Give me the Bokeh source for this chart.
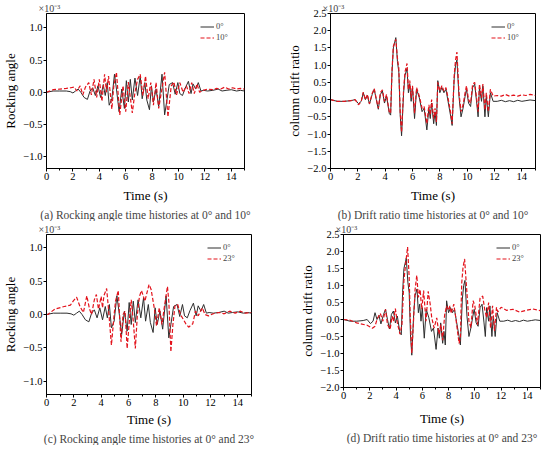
from bokeh.plotting import figure
from bokeh.layouts import column, row
from bokeh.models import Title, FixedTicker, SingleIntervalTicker, CustomJSTickFormatter, Legend, LegendItem
from bokeh.embed import file_html
from bokeh.resources import INLINE

FONT = "Liberation Serif"

# ---- Rocking angle, 0 deg (same series in panels a and c), units 1e-3 ----
t_rock0 = [0, 0.5, 1.0, 1.5, 1.8, 2.0, 2.2, 2.4, 2.6, 2.85, 3.1, 3.3, 3.5, 3.7, 3.9, 4.1, 4.3, 4.45,
           4.6, 4.75, 4.95, 5.15, 5.3, 5.5, 5.7, 5.9, 6.05, 6.2, 6.35, 6.5, 6.7, 6.9, 7.1, 7.25, 7.45,
           7.6, 7.8, 7.95, 8.1, 8.3, 8.5, 8.75, 8.95, 9.1, 9.3, 9.55, 9.75, 9.95, 10.1, 10.3, 10.5,
           10.75, 10.95, 11.1, 11.3, 11.5, 11.7, 11.9, 12.2, 12.6, 13.0, 13.3, 13.6, 14.0, 14.4, 14.7, 15.0]
v_rock0 = [0.0, 0.02, 0.02, 0.02, 0.01, -0.01, 0.02, 0.05, 0.0, -0.08, -0.11, 0.02, 0.07, -0.05, 0.1,
           -0.08, 0.12, -0.05, 0.15, -0.2, -0.1, 0.28, 0.05, -0.3, 0.05, -0.25, 0.18, -0.15, 0.2, -0.12,
           0.22, -0.05, 0.25, -0.1, 0.15, -0.12, -0.27, 0.1, -0.15, 0.05, -0.22, 0.28, -0.35, -0.15, 0.12,
           0.15, -0.03, 0.15, -0.02, -0.05, 0.06, 0.17, -0.02, 0.13, 0.05, 0.15, 0.02, 0.03, 0.02, 0.03,
           0.05, 0.02, 0.03, 0.04, 0.02, 0.03, 0.02]

# ---- Rocking angle, 10 deg (panel a) ----
t_rock10 = [0, 0.5, 1.0, 1.5, 1.85, 2.1, 2.3, 2.55, 2.75, 2.95, 3.2, 3.4, 3.6, 3.8, 4.0, 4.2, 4.4, 4.55,
            4.7, 4.95, 5.1, 5.3, 5.55, 5.8, 6.0, 6.2, 6.5, 6.7, 6.9, 7.1, 7.3, 7.5, 7.7, 7.9, 8.1, 8.3,
            8.5, 8.7, 8.95, 9.2, 9.45, 9.65, 9.85, 10.1, 10.35, 10.6, 10.8, 11.0, 11.2, 11.4, 11.6, 11.85,
            12.2, 12.6, 12.9, 13.2, 13.5, 13.8, 14.1, 14.4, 14.7, 15.0]
v_rock10 = [0.0, 0.04, 0.05, 0.06, 0.07, 0.08, 0.02, 0.1, -0.04, 0.08, 0.15, -0.04, 0.2, -0.08, 0.2,
            -0.14, 0.28, 0.0, 0.25, -0.26, 0.1, 0.31, -0.35, 0.1, -0.3, 0.16, -0.32, 0.0, 0.2, 0.28, -0.05,
            0.25, -0.1, 0.15, -0.2, 0.15, -0.25, 0.0, 0.31, -0.38, 0.1, 0.16, -0.04, 0.15, 0.0, 0.1, -0.02,
            0.15, -0.02, 0.13, 0.0, 0.03, 0.05, 0.04, 0.06, 0.05, 0.08, 0.05, 0.07, 0.05, 0.06, 0.05]

# ---- Rocking angle, 23 deg (panel c) ----
t_rock23 = [0, 0.1, 0.6, 1.3, 1.75, 1.95, 2.2, 2.45, 2.7, 2.95, 3.15, 3.3, 3.5, 3.65, 3.8, 4.0, 4.1, 4.2,
            4.4, 4.55, 4.75, 4.95, 5.05, 5.25, 5.45, 5.6, 5.75, 5.9, 6.1, 6.2, 6.35, 6.5, 6.65, 6.8, 6.95,
            7.2, 7.5, 7.65, 7.9, 8.05, 8.25, 8.45, 8.6, 8.85, 8.95, 9.1, 9.25, 9.4, 9.6, 9.8, 10.0, 10.2,
            10.4, 10.7, 10.9, 11.1, 11.4, 11.6, 11.85, 12.3, 12.7, 13.0, 13.4, 13.8, 14.2, 14.5, 15.0]
v_rock23 = [0.0, 0.0, 0.08, 0.12, 0.14, 0.2, 0.26, 0.12, 0.03, 0.28, 0.08, 0.0, 0.22, 0.3, 0.08, 0.27,
            0.1, 0.28, 0.39, 0.05, -0.46, 0.0, 0.2, 0.36, -0.41, 0.0, 0.05, -0.51, 0.0, 0.22, -0.1, -0.51,
            0.0, 0.27, 0.36, 0.2, 0.45, 0.38, 0.08, -0.17, 0.1, -0.15, 0.08, 0.42, 0.2, -0.56, -0.15, 0.13,
            0.15, 0.0, -0.07, -0.14, -0.19, -0.14, 0.05, -0.02, 0.1, 0.0, -0.02, 0.02, 0.03, 0.01, 0.05,
            0.02, 0.05, 0.02, 0.03]

# ---- Column drift ratio, 0 deg and 10 deg (panels b and d), units 1e-3 ----
t_drift = [0, 0.5, 1.0, 1.5, 1.8, 2.05, 2.25, 2.4, 2.55, 2.7, 2.85, 3.05, 3.2, 3.35, 3.5, 3.65, 3.8, 3.95,
           4.1, 4.3, 4.4, 4.5, 4.6, 4.78, 4.9, 5.0, 5.1, 5.2, 5.35, 5.45, 5.6, 5.7, 5.8, 5.9, 6.0, 6.15,
           6.3, 6.5, 6.7, 6.85, 7.05, 7.2, 7.3, 7.4, 7.55, 7.65, 7.75, 7.85, 8.0, 8.15, 8.3, 8.45, 8.6,
           8.8, 8.9, 9.05, 9.15, 9.25, 9.4, 9.55, 9.7, 9.85, 9.95, 10.1, 10.25, 10.4, 10.55, 10.7, 10.8,
           10.9, 11.05, 11.15, 11.3, 11.4, 11.55, 11.7, 11.9, 12.2, 12.5, 12.8, 13.1, 13.4, 13.7, 14.0,
           14.3, 14.6, 15.0]
v_drift0 = [0.0, -0.05, -0.05, -0.03, 0.0, -0.12, -0.05, 0.2, 0.0, 0.12, -0.13, 0.15, 0.3, 0.0, -0.28,
            0.15, 0.25, -0.1, 0.1, -0.4, -0.45, 0.8, 1.5, 1.8, 1.1, 0.8, -0.45, -1.05, 0.2, 0.7, 0.9, 0.2,
            0.45, -0.05, 0.35, -0.55, 0.3, 0.05, -0.35, -0.25, -0.88, -0.25, -0.55, -0.1, -0.7, -0.35,
            -0.75, 0.55, 0.2, 0.35, 0.2, 0.3, -0.05, -0.5, -0.75, 0.6, 1.0, 1.15, 0.1, -0.5, -0.25, 0.1,
            0.3, -0.1, -0.2, 0.35, 0.45, -0.1, -0.5, 0.35, -0.05, 0.4, -0.5, 0.1, -0.5, 0.2, -0.05, -0.05,
            -0.02, -0.06, -0.03, -0.06, -0.02, -0.05, -0.03, -0.01, -0.03]
v_drift10 = [0.0, -0.05, -0.05, -0.03, 0.0, -0.15, -0.05, 0.22, 0.0, 0.15, -0.12, 0.18, 0.32, 0.02, -0.25,
             0.2, 0.28, -0.05, 0.15, -0.35, -0.4, 0.85, 1.55, 1.75, 1.2, 0.9, -0.35, -0.95, 0.3, 0.8, 1.05,
             0.3, 0.55, 0.05, 0.4, -0.4, 0.35, 0.1, -0.25, -0.2, -0.7, -0.15, -0.45, 0.0, -0.55, -0.25,
             -0.65, 0.5, 0.25, 0.4, 0.25, 0.35, 0.05, -0.4, -0.7, 0.7, 1.15, 1.38, 0.2, -0.35, -0.15, 0.2,
             0.4, 0.0, -0.1, 0.45, 0.5, 0.0, -0.35, 0.45, 0.05, 0.45, -0.3, 0.2, -0.35, 0.3, 0.1, 0.12,
             0.1, 0.15, 0.1, 0.13, 0.1, 0.14, 0.12, 0.15, 0.12]

# ---- Column drift ratio, 23 deg (panel d) ----
t_drift23 = [0, 0.5, 1.0, 1.8, 2.2, 2.4, 2.55, 2.8, 3.0, 3.2, 3.35, 3.55, 3.7, 3.8, 3.95, 4.1, 4.3, 4.45,
             4.6, 4.75, 4.88, 5.0, 5.08, 5.2, 5.33, 5.45, 5.58, 5.7, 5.83, 5.96, 6.1, 6.28, 6.45, 6.6,
             6.72, 6.9, 7.1, 7.27, 7.42, 7.55, 7.7, 7.85, 8.0, 8.1, 8.2, 8.4, 8.55, 8.8, 8.9, 9.0, 9.1,
             9.22, 9.35, 9.55, 9.7, 9.87, 10.0, 10.2, 10.4, 10.6, 10.75, 10.9, 11.05, 11.2, 11.35, 11.5,
             11.65, 11.75, 12.0, 12.4, 12.9, 13.4, 13.9, 14.4, 14.9, 15.0]
v_drift23 = [0.0, -0.02, -0.1, -0.17, -0.26, -0.2, 0.0, 0.18, -0.05, 0.3, -0.15, -0.29, 0.1, -0.05, 0.32,
             -0.1, -0.43, -0.15, 1.15, 1.7, 2.13, 1.25, 0.1, -0.99, -0.05, 0.88, 1.3, 0.65, 0.88, 0.3,
             0.85, -0.05, 0.83, 0.45, 0.05, -0.25, 0.05, -0.43, -0.15, -0.61, 0.13, 0.4, 0.27, 0.4, 0.18,
             0.45, 0.05, -0.7, -0.55, 1.06, 1.53, 1.78, 1.05, -0.05, -0.24, 0.55, 0.4, -0.15, 0.64, 0.69,
             0.3, 0.05, 0.5, -0.25, 0.4, -0.34, 0.36, 0.22, 0.36, 0.27, 0.3, 0.22, 0.27, 0.31, 0.27, 0.25]

rock_ticks = [-1.0, -0.5, 0.0, 0.5, 1.0]
drift_ticks = [-2.0, -1.5, -1.0, -0.5, 0.0, 0.5, 1.0, 1.5, 2.0, 2.5]
x_label = "Time (s)"
exp_label = "\u00d710\u207b\u00b3"

BLACK = "#2e2e2e"
RED = "#e3121b"

fmt = CustomJSTickFormatter(code="return (tick < -1e-9 ? '\\u2212' : '') + Math.abs(tick).toFixed(1);")


def make_panel(yr, yticks, ylab, caption, t0, v0, t1, v1, lab1, ml, mr, fw, fh, xstand):
    p = figure(frame_width=fw, frame_height=fh, x_range=(0, 15), y_range=yr,
               output_backend="svg", toolbar_location=None,
               min_border_left=ml, min_border_right=mr, min_border_top=0, min_border_bottom=0)
    p.grid.visible = False
    p.outline_line_color = "black"
    p.outline_line_width = 1
    p.background_fill_color = "white"

    p.title.text = exp_label
    p.title.align = "left"
    p.title.offset = -8
    p.title.standoff = 0
    p.title.text_font = FONT
    p.title.text_font_size = "10px"
    p.title.text_font_style = "normal"

    p.xaxis.ticker = SingleIntervalTicker(interval=2, num_minor_ticks=2)
    p.yaxis.ticker = FixedTicker(ticks=yticks)
    p.yaxis.formatter = fmt
    for ax in (p.xaxis[0], p.yaxis[0]):
        ax.axis_line_color = "black"
        ax.major_tick_line_color = "black"
        ax.minor_tick_line_color = "black"
        ax.major_tick_in = 0
        ax.major_tick_out = 3
        ax.minor_tick_in = 0
        ax.minor_tick_out = 2
        ax.major_label_text_font = FONT
        ax.major_label_text_font_size = "10.5px"
        ax.major_label_text_font_style = "normal"
        ax.major_label_text_color = "black"
        ax.axis_label_text_font = FONT
        ax.axis_label_text_font_style = "normal"
        ax.axis_label_text_color = "black"
        ax.major_label_standoff = 1
    p.xaxis.axis_label = x_label
    p.xaxis.axis_label_text_font_size = "13px"
    p.xaxis.axis_label_standoff = xstand
    p.yaxis.axis_label = ylab
    p.yaxis.axis_label_text_font_size = "13px"
    p.yaxis.axis_label_standoff = 2

    r0 = p.line(t0, v0, line_color=BLACK, line_width=1.0)
    r1 = p.line(t1, v1, line_color=RED, line_width=1.2, line_dash="4 2")

    leg = Legend(items=[LegendItem(label="0\u00b0", renderers=[r0]),
                        LegendItem(label=lab1, renderers=[r1])],
                 location="top_right")
    leg.border_line_color = None
    leg.background_fill_alpha = 0
    leg.label_text_font = FONT
    leg.label_text_font_size = "8.5px"
    leg.label_height = 9
    leg.glyph_height = 9
    leg.glyph_width = 14
    leg.label_standoff = 2
    leg.spacing = 1
    leg.padding = 2
    leg.margin = 8
    p.add_layout(leg)

    cap = Title(text=caption, align="center", text_font=FONT, text_font_size="11.5px",
                text_font_style="normal", standoff=2)
    p.add_layout(cap, "below")
    return p


pa = make_panel((-1.18, 1.22), rock_ticks, "Rocking angle",
                "(a) Rocking angle time histories at 0\u00b0 and 10\u00b0",
                t_rock0, v_rock0, t_rock10, v_rock10, "10\u00b0", 32, 29, 198, 155, 5)
pb = make_panel((-2.0, 2.5), drift_ticks, "column drift ratio",
                "(b) Drift ratio time histories at 0\u00b0 and 10\u00b0",
                t_drift, v_drift0, t_drift, v_drift10, "10\u00b0", 57, 5, 205, 155, 5)
pc = make_panel((-1.2, 1.2), rock_ticks, "Rocking angle",
                "(c) Rocking angle time histories at 0\u00b0 and 23\u00b0",
                t_rock0, v_rock0, t_rock23, v_rock23, "23\u00b0", 39, 23, 205, 160, 3)
pd = make_panel((-2.0, 2.5), drift_ticks, "column drift ratio",
                "(d) Drift ratio time histories at 0\u00b0 and 23\u00b0",
                t_drift, v_drift0, t_drift23, v_drift23, "23\u00b0", 69, 1, 197, 153, 9)

layout = column(row(pa, pb), row(pc, pd))
open("out.html", "w").write(file_html(layout, INLINE))
